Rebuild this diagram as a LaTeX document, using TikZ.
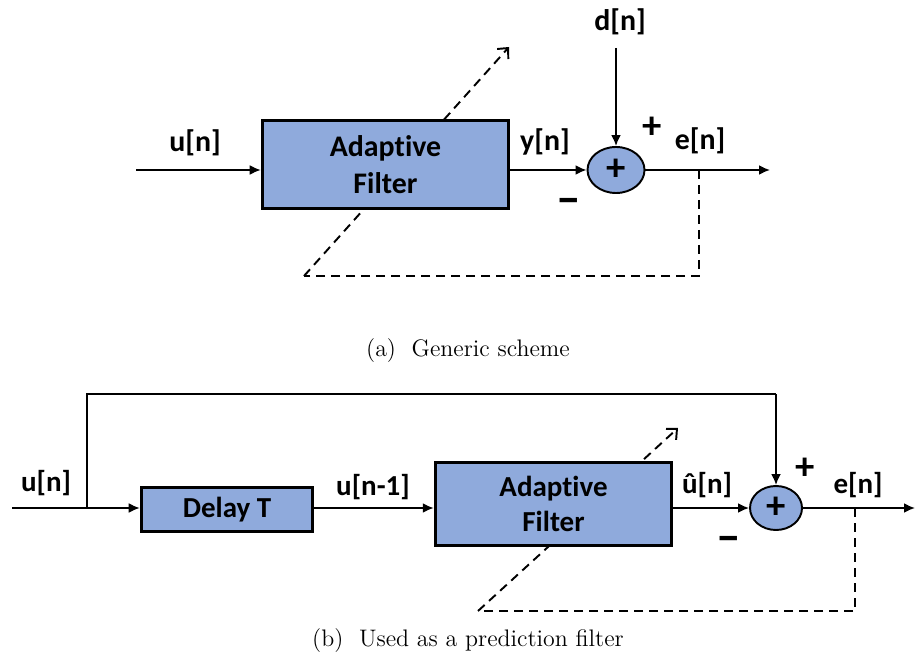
\documentclass[tikz,border=0pt]{standalone}
\usepackage{fontspec}
\setsansfont{Carlito}[Ligatures=NoCommon]
\usetikzlibrary{arrows.meta,shapes.geometric}
\definecolor{boxblue}{HTML}{8FAADC}
\begin{document}
\begin{tikzpicture}[
blk/.style={draw, line width=2pt, fill=boxblue, align=center},
sumnode/.style={ellipse, draw, line width=1.1pt, fill=boxblue, inner sep=0pt},
lbl/.style={font=\sffamily\bfseries\fontsize{17}{21}\selectfont},
lblb/.style={font=\sffamily\bfseries\fontsize{16.5}{20}\selectfont},
sgn/.style={font=\sffamily\bfseries\fontsize{22}{22}\selectfont},
neg/.style={font=\sffamily\bfseries\fontsize{28}{28}\selectfont},
arr/.style={-{Latex[length=2.2mm,width=2mm]}, line width=1.1pt},
fb/.style={dash pattern=on 1.8mm off 1.2mm, line width=1.1pt},
fbarr/.style={fb, -{Straight Barb[length=1.6mm,width=3mm]}}]
\useasboundingbox (0,0) rectangle (18.34,13.16);
% (a) generic scheme
\coordinate (in1) at (2.72,9.76);
\coordinate (out1) at (15.40,9.76);
\coordinate (d1) at (12.32,12.20);
\coordinate (tap1) at (13.98,9.76);
\coordinate (fbc1) at (13.98,7.64);
\coordinate (fbl1) at (6.08,7.64);
\coordinate (fbe1) at (10.18,12.22);
\draw[fb] (tap1) -- (fbc1) -- (fbl1);
\draw[fbarr] (fbl1) -- (fbe1);
\node[blk, lbl, minimum width=4.92cm, minimum height=1.76cm] (af1) at (7.71,9.87) {Adaptive\\Filter};
\node[sumnode, sgn, minimum width=1.14cm, minimum height=0.92cm] (sum1) at (12.32,9.76) {+};
\node[lbl] (dn1) at (12.40,12.72) {d[n]};
\node[lbl] (un1) at (3.90,10.30) {u[n]};
\node[lbl] (yn1) at (10.90,10.32) {y[n]};
\node[sgn] (plus1) at (13.04,10.60) {+};
\node[lbl] (en1) at (14.00,10.34) {e[n]};
\node[neg] (minus1) at (11.38,9.04) {--};
\draw[arr] (in1) -- (in1 -| af1.west);
\draw[arr] (af1.east |- sum1) -- (sum1.west);
\draw[arr] (d1) -- (sum1.north);
\draw[arr] (sum1.east) -- (out1);
\node[font=\fontsize{13.6}{16}\selectfont] (capa) at (9.36,6.14) {(a)\ \ Generic scheme};
% (b) prediction filter
\coordinate (in2) at (0.24,3.00);
\coordinate (br2) at (1.74,3.00);
\coordinate (top2) at (1.74,5.28);
\coordinate (out2) at (18.30,3.00);
\coordinate (tap2) at (17.10,3.00);
\coordinate (fbc2) at (17.10,0.94);
\coordinate (fbl2) at (9.56,0.94);
\coordinate (fbe2) at (13.56,4.60);
\draw[fb] (tap2) -- (fbc2) -- (fbl2);
\draw[fbarr] (fbl2) -- (fbe2);
\node[blk, lblb, minimum width=3.42cm, minimum height=0.88cm] (dly) at (4.54,2.97) {Delay T};
\node[blk, lblb, minimum width=4.72cm, minimum height=1.66cm] (af2) at (11.07,3.08) {Adaptive\\Filter};
\node[sumnode, sgn, minimum width=1.04cm, minimum height=0.88cm] (sum2) at (15.52,3.00) {+};
\node[lblb] (un2) at (0.92,3.50) {u[n]};
\node[lblb] (un2d) at (7.46,3.42) {u[n-1]};
\node[lblb] (uh2) at (14.14,3.46) {û[n]};
\node[sgn] (plus2) at (16.10,3.78) {+};
\node[lblb] (en2) at (17.16,3.46) {e[n]};
\node[neg] (minus2) at (14.58,2.28) {--};
\draw[arr] (in2) -- (in2 -| dly.west);
\draw[line width=1.1pt] (br2) -- (top2) -- (top2 -| sum2);
\draw[arr] (top2 -| sum2) -- (sum2.north);
\draw[arr] (dly.east |- in2) -- (in2 -| af2.west);
\draw[arr] (af2.east |- sum2) -- (sum2.west);
\draw[arr] (sum2.east) -- (out2);
\node[font=\fontsize{13.6}{16}\selectfont] (capb) at (9.36,0.34) {(b)\ \ Used as a prediction filter};
\end{tikzpicture}
\end{document}
